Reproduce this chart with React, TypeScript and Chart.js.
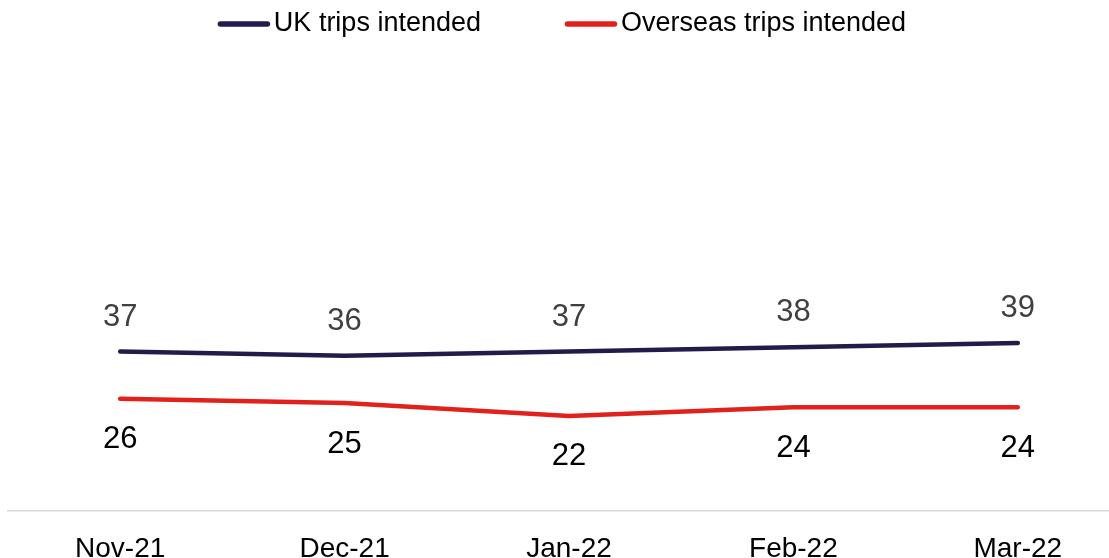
import React, { useEffect, useRef } from "react";
import { Chart, registerables } from "chart.js";

Chart.register(...registerables);

const categories = ["Nov-21", "Dec-21", "Jan-22", "Feb-22", "Mar-22"];
const ukTrips = [37, 36, 37, 38, 39];
const overseasTrips = [26, 25, 22, 24, 24];
const seriesNames = ["UK trips intended", "Overseas trips intended"];

const FONT = '"Liberation Sans", Arial, sans-serif';
const UK_COLOR = "#211c4a";
const OS_COLOR = "#e3211c";

const labelStyle = [
  { color: "#404040", offset: -34.5 },
  { color: "#000000", offset: 41 },
];

const dataLabelPlugin = {
  id: "dataLabels",
  afterDatasetsDraw(chart: any) {
    const ctx = chart.ctx;
    ctx.save();
    ctx.font = `31px ${FONT}`;
    ctx.textAlign = "center";
    ctx.textBaseline = "middle";
    chart.data.datasets.forEach((ds: any, di: number) => {
      const meta = chart.getDatasetMeta(di);
      const st = labelStyle[di];
      meta.data.forEach((pt: any, i: number) => {
        ctx.fillStyle = st.color;
        ctx.fillText(String(ds.data[i]), pt.x, pt.y + st.offset);
      });
    });
    ctx.restore();
  },
};

const legendPlugin = {
  id: "customLegend",
  afterDraw(chart: any) {
    const ctx = chart.ctx;
    ctx.save();
    ctx.font = `27px ${FONT}`;
    ctx.textBaseline = "middle";
    ctx.textAlign = "left";
    const markerW = 52;
    const gap = 4;
    const itemGap = 84;
    const items = chart.data.datasets.map((ds: any) => ({
      label: ds.label,
      color: ds.borderColor,
      tw: ctx.measureText(ds.label).width,
    }));
    const total =
      items.reduce((s: number, it: any) => s + markerW + gap + it.tw, 0) +
      itemGap * (items.length - 1);
    const centerX = 562;
    const y = 23.5;
    let x = centerX - total / 2;
    items.forEach((it: any) => {
      ctx.strokeStyle = it.color;
      ctx.lineWidth = 5.5;
      ctx.lineCap = "round";
      ctx.beginPath();
      ctx.moveTo(x + 2.5, y + 0.5);
      ctx.lineTo(x + markerW - 2.5, y + 0.5);
      ctx.stroke();
      ctx.fillStyle = "#000000";
      ctx.fillText(it.label, x + markerW + gap, y);
      x += markerW + gap + it.tw + itemGap;
    });
    ctx.restore();
  },
};

export default function App() {
  const ref = useRef<HTMLCanvasElement | null>(null);

  useEffect(() => {
    if (!ref.current) return;
    const chart = new Chart(ref.current, {
      type: "line",
      data: {
        labels: categories,
        datasets: [
          {
            label: seriesNames[0],
            data: ukTrips,
            borderColor: UK_COLOR,
            backgroundColor: UK_COLOR,
            borderWidth: 4.5,
            borderCapStyle: "round",
            borderJoinStyle: "round",
            pointRadius: 0,
            tension: 0,
          },
          {
            label: seriesNames[1],
            data: overseasTrips,
            borderColor: OS_COLOR,
            backgroundColor: OS_COLOR,
            borderWidth: 4.5,
            borderCapStyle: "round",
            borderJoinStyle: "round",
            pointRadius: 0,
            tension: 0,
          },
        ],
      },
      options: {
        responsive: false,
        animation: false,
        devicePixelRatio: 1,
        layout: { padding: { left: 8, top: 81, right: 0, bottom: 0 } },
        plugins: {
          legend: { display: false },
          tooltip: { enabled: false },
        },
        scales: {
          x: {
            type: "category",
            offset: true,
            grid: { display: false },
            border: { display: true, color: "#d9d9d9", width: 1.5 },
            ticks: {
              color: "#000000",
              padding: 14,
              font: { family: FONT, size: 28 },
              maxRotation: 0,
              autoSkip: false,
            },
          },
          y: {
            display: false,
            min: 0,
            max: 100,
          },
        },
      },
      plugins: [dataLabelPlugin, legendPlugin],
    });
    return () => chart.destroy();
  }, []);

  return (
    <div
      style={{
        position: "fixed",
        left: 0,
        top: 0,
        width: 1109,
        height: 558,
        overflow: "hidden",
        background: "#ffffff",
      }}
    >
      <canvas
        ref={ref}
        width={1130}
        height={580}
        style={{ position: "absolute", left: 0, top: 0, display: "block" }}
      />
    </div>
  );
}
